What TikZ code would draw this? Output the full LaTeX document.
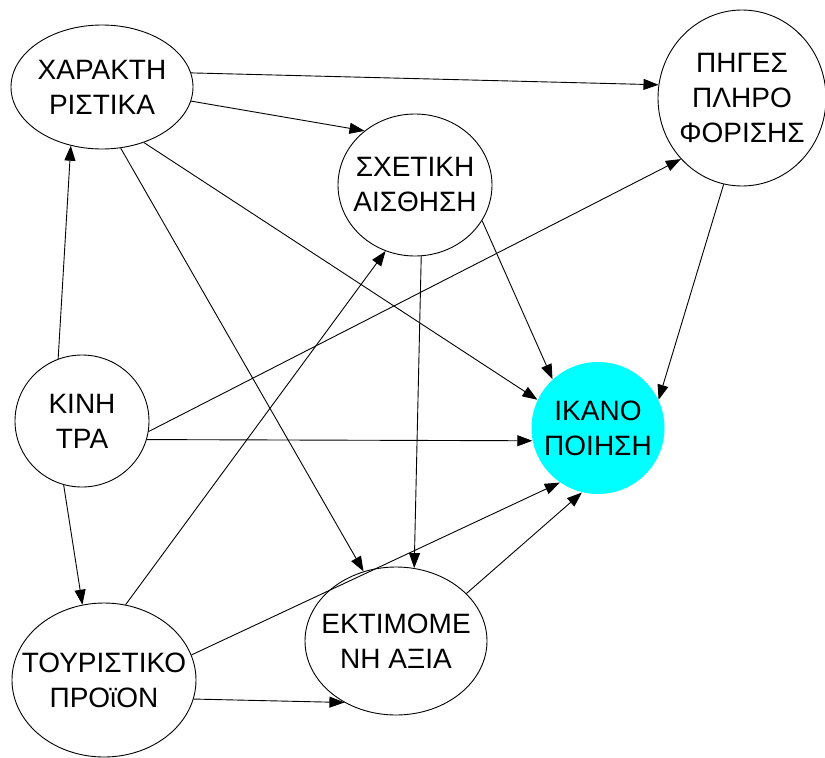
\documentclass[tikz,border=0pt]{standalone}
\usepackage{fontspec}
\setmainfont{Liberation Sans}
\usetikzlibrary{shapes.geometric,arrows.meta}

\definecolor{goalcyan}{RGB}{0,255,255}

\tikzset{
  concept/.style={ellipse, draw=black, line width=0.9pt, fill=white,
    inner xsep=-50pt, inner ysep=-50pt, align=center,
    font=\fontsize{28pt}{35pt}\selectfont},
  goal/.style={concept, draw=none, fill=goalcyan},
  link/.style={line width=0.9pt, -{Triangle[length=15pt,width=11pt]}}
}

\begin{document}
\begin{tikzpicture}[x=1pt,y=-1pt]
  \useasboundingbox (0,0) rectangle (825,758);

  % factors
  \node[concept, minimum width=182pt, minimum height=124pt] (char) at (102,87) {ΧΑΡΑΚΤΗ\\ΡΙΣΤΙΚΑ};
  \node[concept, minimum width=154pt, minimum height=142pt] (sense) at (415,185) {ΣΧΕΤΙΚΗ\\ΑΙΣΘΗΣΗ};
  \node[concept, minimum width=168pt, minimum height=176pt] (info) at (742,98) {ΠΗΓΕΣ\\ΠΛΗΡΟ\\ΦΟΡΙΣΗΣ};
  \node[concept, minimum width=134pt, minimum height=132pt] (motive) at (82,421) {ΚΙΝΗ\\ΤΡΑ};
  \node[goal, minimum width=133pt, minimum height=132pt] (satis) at (598,428) {ΙΚΑΝΟ\\ΠΟΙΗΣΗ};
  \node[concept, minimum width=184pt, minimum height=154pt] (product) at (104,680) {ΤΟΥΡΙΣΤΙΚΟ\\ΠΡΟϊΟΝ};
  \node[concept, minimum width=182pt, minimum height=148pt] (value) at (396,641) {ΕΚΤΙΜΟΜΕ\\ΝΗ ΑΞΙΑ};

  % relations
  \draw[link] (char.9.4)    -- (info.171.7);
  \draw[link] (char.-9.4)   -- (sense.133.4);
  \draw[link] (char.-53.8)  -- (satis.155.3);
  \draw[link] (char.-73.6)  -- (value.115.9);
  \draw[link] (motive.111.3) -- (char.-118.5);
  \draw[link] (motive.-9.5)  -- (info.225.5);
  \draw[link] (motive.-16.3) -- (satis.191.1);
  \draw[link] (motive.-106.8) -- (product.106.1);
  \draw[link] (product.74.9) -- (sense.-114.8);
  \draw[link] (product.16.5) -- (satis.235.4);
  \draw[link] (product.-12.5) -- (value.230.1);
  \draw[link] (sense.-85.2)  -- (value.76.9);
  \draw[link] (sense.-28.6)  -- (satis.133.8);
  \draw[link] (info.-102.3)  -- (satis.25);
  \draw[link] (value.34)     -- (satis.256.8);
\end{tikzpicture}
\end{document}
